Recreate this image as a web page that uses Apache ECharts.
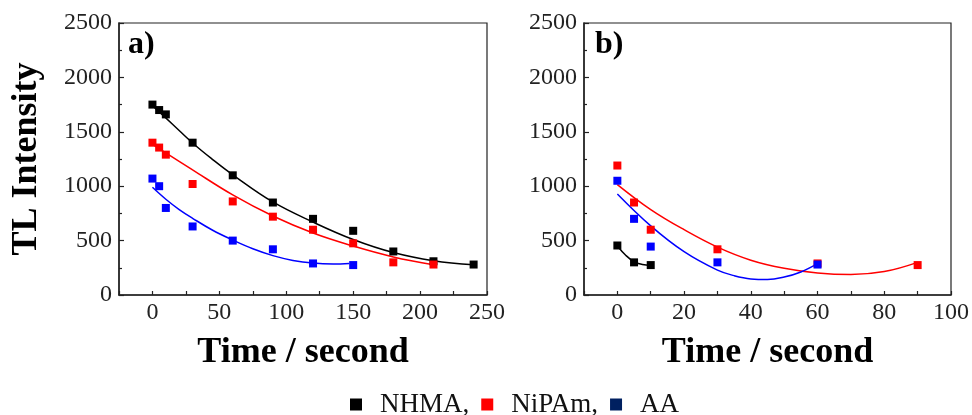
<!DOCTYPE html>
<html>
<head>
<meta charset="utf-8">
<script src="https://cdn.jsdelivr.net/npm/echarts@6/dist/echarts.min.js"></script>
<style>html,body{margin:0;padding:0;background:#fff;}#c{width:972px;height:415px;}</style>
</head>
<body>
<div id="c"></div>
<script>
// ---- Panel a) measured points ----
const aNHMATime = [0, 5, 10, 30, 60, 90, 120, 150, 180, 210, 240];
const aNHMA     = [1750, 1700, 1660, 1400, 1100, 850, 700, 590, 400, 310, 280];
const aNiPAmTime = [0, 5, 10, 30, 60, 90, 120, 150, 180, 210];
const aNiPAm     = [1400, 1355, 1290, 1020, 860, 720, 600, 475, 300, 280];
const aAATime = [0, 5, 10, 30, 60, 90, 120, 150];
const aAA     = [1070, 1000, 800, 630, 500, 420, 290, 275];
// ---- Panel a) fitted curves (read from picture) ----
const aFitNHMATime = [0, 15, 30, 45, 60, 90, 120, 150, 180, 210, 240];
const aFitNHMA     = [1740, 1570, 1397, 1245, 1105, 855, 670, 510, 390, 315, 278];
const aFitNiPAmTime = [0, 30, 60, 90, 120, 150, 180, 210];
const aFitNiPAm     = [1385, 1150, 920, 726, 570, 450, 350, 278];
const aFitAATime = [0, 10, 20, 30, 45, 60, 75, 90, 105, 120, 135, 147];
const aFitAA     = [990, 880, 785, 705, 595, 505, 425, 362, 318, 293, 285, 290];
// ---- Panel b) measured points ----
const bNHMATime = [0, 5, 10];
const bNHMA     = [455, 300, 275];
const bNiPAmTime = [0, 5, 10, 30, 60, 90];
const bNiPAm     = [1190, 850, 600, 420, 290, 275];
const bAATime = [0, 5, 10, 30, 60];
const bAA     = [1050, 700, 445, 300, 280];
// ---- Panel b) fitted curves ----
const bFitNHMATime = [0, 2.5, 5, 7.5, 10];
const bFitNHMA     = [450, 365, 305, 280, 272];
const bFitNiPAmTime = [0, 10, 20, 30, 40, 50, 60, 70, 80, 90];
const bFitNiPAm     = [1015, 785, 600, 440, 320, 245, 202, 188, 215, 300];
const bFitAATime = [0, 10, 20, 30, 35, 40, 45, 50, 55, 60];
const bFitAA     = [928, 635, 398, 228, 178, 148, 142, 165, 212, 288];
// ---- Ticks / labels ----
const yTicks = [0, 500, 1000, 1500, 2000, 2500];
const legendNames = ['NHMA', 'NiPAm', 'AA'];
const panelLabels = ['a)', 'b)'];

const zip = (xs, ys) => xs.map((x, i) => [x, ys[i]]);
const FONT = '"Liberation Serif", "Times New Roman", serif';
const BLACK = '#000000', RED = '#ff0000', BLUE = '#0000ff', NAVY = '#002060';

function xAxisCfg(gridIndex, min, max, step, labelStep) {
  return {
    type: 'value', gridIndex, min, max, interval: step,
    name: 'Time / second', nameLocation: 'middle', nameGap: 40,
    nameTextStyle: { fontFamily: FONT, fontSize: 36, fontWeight: 'bold', color: '#000' },
    axisLine: { show: true, onZero: false, lineStyle: { color: '#222', width: 1.5 } },
    axisTick: { show: true, inside: true, length: 4, lineStyle: { color: '#222', width: 1.2 } },
    axisLabel: { fontFamily: FONT, fontSize: 24, color: '#222', margin: 6,
      formatter: v => (Math.round(v) % labelStep === 0 ? String(Math.round(v)) : '') },
    splitLine: { show: false }
  };
}
function yAxisCfg(gridIndex, withName) {
  return {
    type: 'value', gridIndex, min: yTicks[0], max: yTicks[yTicks.length - 1], interval: 500,
    name: withName ? 'TL Intensity' : '', nameLocation: 'middle', nameGap: 74,
    nameTextStyle: { fontFamily: FONT, fontSize: 36, fontWeight: 'bold', color: '#000' },
    axisLine: { show: true, onZero: false, lineStyle: { color: '#222', width: 1.5 } },
    axisTick: { show: true, inside: true, length: 5, lineStyle: { color: '#222', width: 1.2 } },
    minorTick: { show: true, splitNumber: 2, length: 3, lineStyle: { color: '#222', width: 1.2 } },
    axisLabel: { fontFamily: FONT, fontSize: 24, color: '#222', margin: 7,
      formatter: v => String(Math.round(v)) },
    splitLine: { show: false }, minorSplitLine: { show: false }
  };
}
function fit(name, xi, xs, ys, color) {
  return { name, type: 'line', xAxisIndex: xi, yAxisIndex: xi, data: zip(xs, ys),
    smooth: 0.4, showSymbol: false, symbol: 'none', z: 2,
    lineStyle: { color, width: 1.5 }, itemStyle: { color }, silent: true };
}
function pts(name, xi, xs, ys, color) {
  return { name, type: 'scatter', xAxisIndex: xi, yAxisIndex: xi, data: zip(xs, ys),
    symbol: 'rect', symbolSize: 8, z: 5, itemStyle: { color, opacity: 1 } };
}

const chart = echarts.init(document.getElementById('c'), null, { renderer: 'canvas' });
chart.setOption({
  backgroundColor: '#fff',
  animation: false,
  title: [
    { text: panelLabels[0], left: 123, top: 24, padding: 5,
      textStyle: { fontFamily: FONT, fontSize: 32, fontWeight: 'bold', color: '#000' } },
    { text: panelLabels[1], left: 590, top: 24, padding: 5,
      textStyle: { fontFamily: FONT, fontSize: 32, fontWeight: 'bold', color: '#000' } }
  ],
  legend: {
    left: 350, top: 391, padding: 0, itemWidth: 12, itemHeight: 12, itemGap: 12,
    icon: 'rect',
    formatter: n => (n === 'AA' ? n : n + ','),
    textStyle: { fontFamily: FONT, fontSize: 27, color: '#111', padding: [0, 0, 0, 13] },
    data: [
      { name: legendNames[0], itemStyle: { color: BLACK, opacity: 1 } },
      { name: legendNames[1], itemStyle: { color: RED, opacity: 1 } },
      { name: legendNames[2], itemStyle: { color: NAVY, opacity: 1 } }
    ]
  },
  grid: [
    { left: 119, top: 23, width: 368, height: 272, show: true, borderColor: '#222', borderWidth: 1.2, backgroundColor: 'transparent' },
    { left: 584, top: 23, width: 368, height: 272, show: true, borderColor: '#222', borderWidth: 1.2, backgroundColor: 'transparent' }
  ],
  xAxis: [ xAxisCfg(0, -25, 250, 25, 50), xAxisCfg(1, -10, 100, 10, 20) ],
  yAxis: [ yAxisCfg(0, true), yAxisCfg(1, false) ],
  series: [
    fit('NHMA fit a', 0, aFitNHMATime, aFitNHMA, BLACK),
    fit('NiPAm fit a', 0, aFitNiPAmTime, aFitNiPAm, RED),
    fit('AA fit a', 0, aFitAATime, aFitAA, BLUE),
    fit('NHMA fit b', 1, bFitNHMATime, bFitNHMA, BLACK),
    fit('NiPAm fit b', 1, bFitNiPAmTime, bFitNiPAm, RED),
    fit('AA fit b', 1, bFitAATime, bFitAA, BLUE),
    pts('NHMA', 0, aNHMATime, aNHMA, BLACK),
    pts('NiPAm', 0, aNiPAmTime, aNiPAm, RED),
    pts('AA', 0, aAATime, aAA, BLUE),
    pts('NHMA', 1, bNHMATime, bNHMA, BLACK),
    pts('NiPAm', 1, bNiPAmTime, bNiPAm, RED),
    pts('AA', 1, bAATime, bAA, BLUE)
  ]
});
</script>
</body>
</html>
